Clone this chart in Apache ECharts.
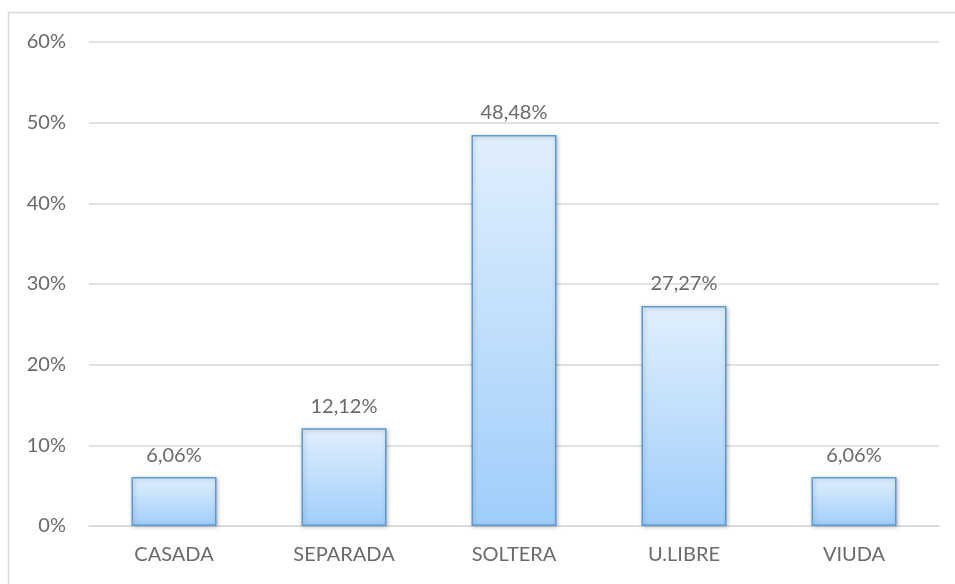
<!DOCTYPE html>
<html>
<head>
<meta charset="utf-8">
<script src="https://cdn.jsdelivr.net/npm/echarts@6/dist/echarts.min.js"></script>
<style>
  html, body { margin: 0; padding: 0; background: #fff; }
  #main { width: 955px; height: 584px; }
</style>
</head>
<body>
<div id="main"></div>
<script>
var categories = ["CASADA", "SEPARADA", "SOLTERA", "U.LIBRE", "VIUDA"];
var values = [6.06, 12.12, 48.48, 27.27, 6.06];
var yTicks = [0, 10, 20, 30, 40, 50, 60];

var chart = echarts.init(document.getElementById("main"));
var textColor = "#6a6a6a";
var font = "Lato, 'Open Sans', sans-serif";

chart.setOption({
  animation: false,
  graphic: [{
    type: "rect",
    shape: { x: 8.5, y: 12.5, width: 960, height: 600 },
    style: { fill: "none", stroke: "#d9d9d9", lineWidth: 1.5 },
    silent: true
  }],
  grid: { left: 89, right: 16, top: 42, bottom: 58 },
  xAxis: {
    type: "category",
    data: categories,
    axisLine: { show: true, lineStyle: { color: "#d9d9d9", width: 1.5 } },
    axisTick: { show: false },
    axisLabel: { color: textColor, fontSize: 20, fontFamily: font, margin: 19 }
  },
  yAxis: {
    type: "value",
    min: yTicks[0],
    max: yTicks[yTicks.length - 1],
    interval: 10,
    axisLine: { show: false },
    axisTick: { show: false },
    splitLine: { lineStyle: { color: "#d9d9d9", width: 1.5 } },
    axisLabel: {
      color: textColor, fontSize: 20, fontFamily: font, margin: 23,
      formatter: function (v) { return v + "%"; }
    }
  },
  series: [{
    type: "bar",
    data: values,
    barWidth: "50%",
    itemStyle: {
      color: new echarts.graphic.LinearGradient(0, 0, 0, 1, [
        { offset: 0, color: "#e1effd" },
        { offset: 1, color: "#9fcefb" }
      ]),
      borderColor: "#5b9bd5",
      borderWidth: 1.5,
      shadowColor: "rgba(0,0,0,0.25)",
      shadowBlur: 4,
      shadowOffsetX: 1,
      shadowOffsetY: 1
    },
    label: {
      show: true,
      position: "top",
      distance: 12,
      color: textColor,
      fontSize: 20,
      fontFamily: font,
      formatter: function (p) { return p.value.toFixed(2).replace(".", ",") + "%"; }
    }
  }]
});
</script>
</body>
</html>
